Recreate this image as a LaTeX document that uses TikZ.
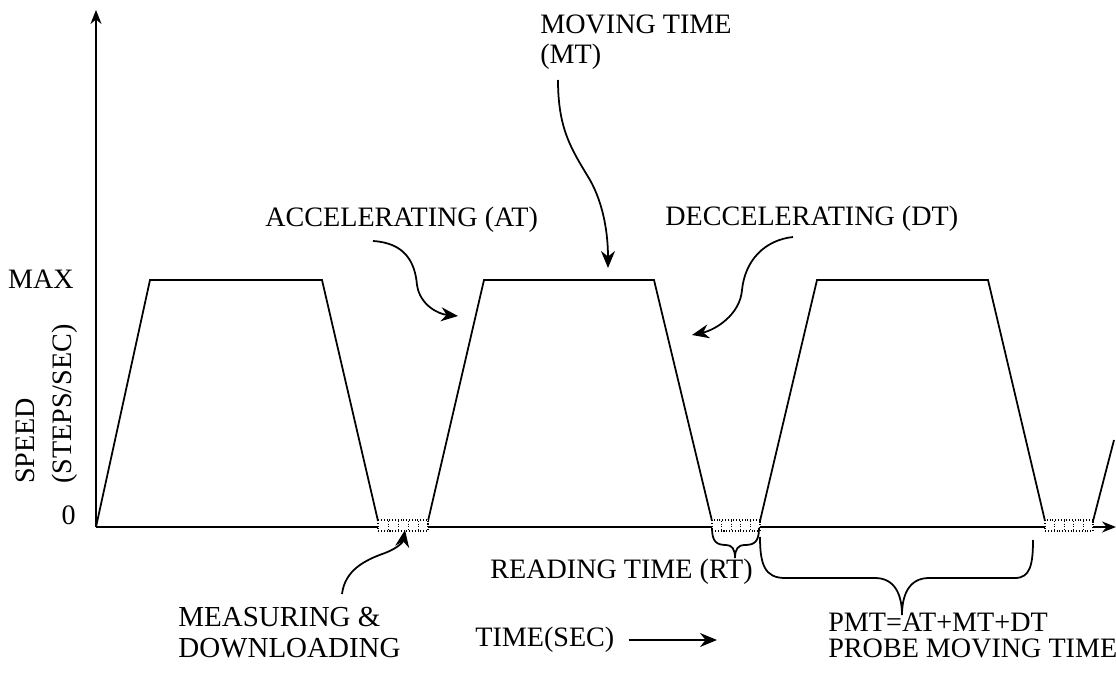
\documentclass[tikz,border=0pt]{standalone}
\usepackage{fontspec}
\setmainfont{Liberation Serif}
\usetikzlibrary{arrows.meta,positioning}

\tikzset{
  label/.style={font=\fontsize{16}{17}\selectfont, inner sep=0pt},
  pointer/.style={line width=1pt, -{Stealth[length=3.4mm,width=2.8mm]}},
  axis/.style={line width=1pt, -{Stealth[length=2.8mm,width=2.2mm]}},
  profile/.style={line width=1pt, line join=miter},
  readbox/.style={densely dotted, line width=0.6pt, fill=white},
  bracket/.style={line width=1pt}
}

\begin{document}
\begin{tikzpicture}[x=0.02cm, y=-0.02cm]
  \useasboundingbox (0,0) rectangle (1116,679);

  % Axes
  \coordinate (origin) at (96,527);
  \coordinate (ytop) at (96,10);
  \coordinate (xend) at (1116,527);
  \draw[axis] (origin) -- (ytop);
  \draw[axis] (origin) -- (xend);

  % Speed profile
  \draw[profile] (origin) -- (150,280) -- (322,280) -- (378,521);
  \draw[profile] (428,521) -- (484,280) -- (654,280) -- (712,521);
  \draw[profile] (760,521) -- (817,280) -- (988,280) -- (1045,521);
  \draw[profile] (1093,521) -- (1114,440);

  % Reading boxes
  \foreach \xa/\xb in {378/428, 712/760, 1045/1093} {
    \filldraw[readbox] (\xa,520) rectangle (\xb,531);
    \foreach \k in {1,...,4}
      \draw[densely dotted, line width=0.5pt] ({\xa+\k*(\xb-\xa)/5},521) -- ++(0,9);
  }

  % Axis labels
  \node[label, anchor=east] (max) at (74,279) {MAX};
  \node[label, anchor=east] (zero) at (76,515) {0};
  \node[label, rotate=90, align=left, anchor=west,
        font=\fontsize{16}{21}\selectfont] (speed) at (47,484) {SPEED\\(STEPS/SEC)};

  % Phase labels
  \node[label, anchor=west] (accel) at (265,220) {ACCELERATING (AT)};
  \node[label, anchor=west] (decel) at (665,219) {DECCELERATING (DT)};
  \node[label, anchor=north west, align=left,
        font=\fontsize{16}{17}\selectfont] (moving) at (540,15) {MOVING TIME\\(MT)};
  \node[label, anchor=north west, align=left,
        font=\fontsize{16.5}{17.5}\selectfont] (measure) at (178,607) {MEASURING \&\\DOWNLOADING};
  \node[label, anchor=east] (reading) at (753,572) {READING TIME (RT)};
  \node[label, anchor=west] (time) at (475,640) {TIME(SEC)};
  \node[label, anchor=north west, align=left,
        font=\fontsize{16}{14.5}\selectfont] (pmt) at (828,613) {PMT=AT+MT+DT\\PROBE MOVING TIME};

  % Pointer ends
  \coordinate (atfrom) at (373,241);
  \coordinate (atto) at (458,316);
  \coordinate (mtfrom) at (558,80);
  \coordinate (mtto) at (608,268);
  \coordinate (dtfrom) at (793,237);
  \coordinate (dtto) at (692,335);
  \coordinate (mdfrom) at (342,594);
  \coordinate (mdto) at (405,530);
  \coordinate (timeend) at (717,640);

  % Pointers
  \draw[pointer] (atfrom) .. controls (405,243) and (415,262) .. (417,285)
    .. controls (420,305) and (438,314) .. (atto);
  \draw[pointer] (mtfrom) .. controls (558,130) and (572,150) .. (590,180)
    .. controls (604,205) and (608,235) .. (mtto);
  \draw[pointer] (dtfrom) .. controls (765,240) and (745,260) .. (742,290)
    .. controls (740,315) and (715,330) .. (dtto);
  \draw[pointer] (mdfrom) .. controls (345,570) and (365,560) .. (385,553)
    .. controls (398,548) and (403,542) .. (mdto);
  \draw[pointer, shorten <=0.28cm] (time.east) -- (timeend);

  % Reading time brace
  \draw[bracket] (712,528) .. controls (712,541) and (716,545) .. (726,545)
    .. controls (732,545) and (735,549) .. (735,558)
    .. controls (735,549) and (738,545) .. (745,545)
    .. controls (755,545) and (759,541) .. (759,528);

  % Probe moving time brace
  \draw[bracket] (760,537) .. controls (760,565) and (765,578) .. (785,578)
    -- (875,578) .. controls (895,578) and (902,595) .. (902,615)
    .. controls (902,595) and (909,578) .. (929,578)
    -- (1015,578) .. controls (1030,578) and (1033,565) .. (1033,540);
\end{tikzpicture}
\end{document}
